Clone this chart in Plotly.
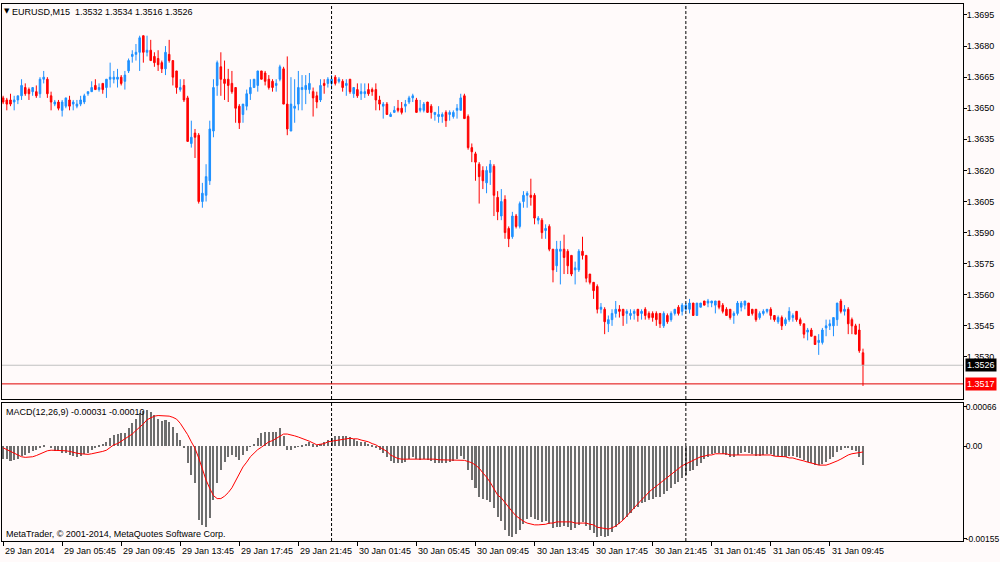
import plotly.graph_objects as go

# ---------------- DATA ----------------
open_ = [
    1.3655, 1.3654, 1.3654, 1.3653, 1.3654, 1.3656, 1.3660, 1.3659, 1.3658, 1.3658,
    1.3657, 1.3664, 1.3664, 1.3656, 1.3652, 1.3653, 1.3649, 1.3651, 1.3654, 1.3652,
    1.3651, 1.3652, 1.3653, 1.3657, 1.3658, 1.3661, 1.3659, 1.3662, 1.3660, 1.3664,
    1.3664, 1.3664, 1.3665, 1.3663, 1.3668, 1.3675, 1.3676, 1.3677, 1.3685, 1.3677,
    1.3678, 1.3675, 1.3674, 1.3672, 1.3669, 1.3676, 1.3673, 1.3668, 1.3659, 1.3661,
    1.3655, 1.3633, 1.3638, 1.3637, 1.3605, 1.3608, 1.3615, 1.3639, 1.3661, 1.3670,
    1.3664, 1.3664, 1.3662, 1.3660, 1.3651, 1.3647, 1.3651, 1.3657, 1.3660, 1.3661,
    1.3668, 1.3667, 1.3664, 1.3663, 1.3661, 1.3664, 1.3669, 1.3652, 1.3639, 1.3650,
    1.3652, 1.3659, 1.3659, 1.3659, 1.3658, 1.3656, 1.3654, 1.3662, 1.3662, 1.3662,
    1.3665, 1.3663, 1.3663, 1.3661, 1.3664, 1.3657, 1.3659, 1.3657, 1.3657, 1.3659,
    1.3659, 1.3659, 1.3654, 1.3651, 1.3652, 1.3646, 1.3648, 1.3650, 1.3650, 1.3651,
    1.3653, 1.3655, 1.3654, 1.3649, 1.3649, 1.3653, 1.3651, 1.3647, 1.3646, 1.3646,
    1.3648, 1.3647, 1.3646, 1.3649, 1.3649, 1.3656, 1.3646, 1.3631, 1.3628, 1.3623,
    1.3620, 1.3614, 1.3619, 1.3622, 1.3607, 1.3598, 1.3606, 1.3592, 1.3588, 1.3598,
    1.3593, 1.3605, 1.3608, 1.3608, 1.3608, 1.3596, 1.3596, 1.3591, 1.3593, 1.3582,
    1.3574, 1.3581, 1.3582, 1.3581, 1.3579, 1.3572, 1.3572, 1.3581, 1.3579, 1.3570,
    1.3566, 1.3564, 1.3553, 1.3553, 1.3546, 1.3548, 1.3551, 1.3553, 1.3553, 1.3551,
    1.3550, 1.3551, 1.3553, 1.3551, 1.3553, 1.3551, 1.3551, 1.3551, 1.3551, 1.3545,
    1.3550, 1.3548, 1.3551, 1.3554, 1.3552, 1.3553, 1.3553, 1.3556, 1.3550, 1.3554,
    1.3557, 1.3556, 1.3556, 1.3555, 1.3557, 1.3555, 1.3553, 1.3553, 1.3550, 1.3551,
    1.3554, 1.3555, 1.3556, 1.3553, 1.3553, 1.3549, 1.3551, 1.3552, 1.3553, 1.3550,
    1.3547, 1.3549, 1.3546, 1.3548, 1.3549, 1.3552, 1.3548, 1.3546, 1.3542, 1.3543,
    1.3540, 1.3537, 1.3537, 1.3544, 1.3545, 1.3545, 1.3548, 1.3557, 1.3552, 1.3553,
    1.3548, 1.3545, 1.3543, 1.3532,
]
high = [
    1.3656, 1.3655, 1.3657, 1.3656, 1.3656, 1.3664, 1.3662, 1.3660, 1.3660, 1.3661,
    1.3665, 1.3668, 1.3665, 1.3658, 1.3654, 1.3654, 1.3654, 1.3655, 1.3656, 1.3654,
    1.3654, 1.3656, 1.3657, 1.3658, 1.3663, 1.3664, 1.3662, 1.3662, 1.3664, 1.3672,
    1.3668, 1.3669, 1.3666, 1.3668, 1.3674, 1.3678, 1.3681, 1.3685, 1.3685, 1.3685,
    1.3683, 1.3677, 1.3678, 1.3673, 1.3680, 1.3683, 1.3673, 1.3668, 1.3664, 1.3664,
    1.3656, 1.3644, 1.3640, 1.3638, 1.3614, 1.3623, 1.3644, 1.3664, 1.3673, 1.3677,
    1.3673, 1.3669, 1.3668, 1.3660, 1.3652, 1.3652, 1.3659, 1.3664, 1.3664, 1.3668,
    1.3668, 1.3668, 1.3666, 1.3664, 1.3664, 1.3671, 1.3670, 1.3675, 1.3665, 1.3664,
    1.3668, 1.3666, 1.3666, 1.3667, 1.3660, 1.3658, 1.3664, 1.3664, 1.3665, 1.3666,
    1.3666, 1.3665, 1.3664, 1.3664, 1.3664, 1.3660, 1.3662, 1.3662, 1.3662, 1.3662,
    1.3660, 1.3662, 1.3656, 1.3653, 1.3653, 1.3648, 1.3651, 1.3654, 1.3653, 1.3654,
    1.3656, 1.3657, 1.3655, 1.3654, 1.3653, 1.3653, 1.3652, 1.3648, 1.3651, 1.3648,
    1.3649, 1.3649, 1.3649, 1.3652, 1.3657, 1.3657, 1.3647, 1.3633, 1.3629, 1.3624,
    1.3622, 1.3622, 1.3625, 1.3623, 1.3610, 1.3611, 1.3608, 1.3593, 1.3600, 1.3599,
    1.3605, 1.3610, 1.3610, 1.3616, 1.3609, 1.3598, 1.3597, 1.3594, 1.3594, 1.3582,
    1.3586, 1.3586, 1.3589, 1.3582, 1.3579, 1.3576, 1.3582, 1.3588, 1.3579, 1.3570,
    1.3566, 1.3565, 1.3556, 1.3554, 1.3550, 1.3553, 1.3557, 1.3555, 1.3553, 1.3553,
    1.3553, 1.3553, 1.3553, 1.3553, 1.3554, 1.3552, 1.3552, 1.3552, 1.3551, 1.3552,
    1.3551, 1.3552, 1.3553, 1.3555, 1.3556, 1.3556, 1.3558, 1.3556, 1.3556, 1.3556,
    1.3557, 1.3558, 1.3557, 1.3557, 1.3557, 1.3556, 1.3554, 1.3553, 1.3552, 1.3557,
    1.3557, 1.3557, 1.3556, 1.3553, 1.3553, 1.3552, 1.3553, 1.3553, 1.3554, 1.3550,
    1.3550, 1.3550, 1.3549, 1.3554, 1.3551, 1.3552, 1.3549, 1.3546, 1.3544, 1.3544,
    1.3540, 1.3541, 1.3544, 1.3548, 1.3548, 1.3549, 1.3556, 1.3558, 1.3555, 1.3554,
    1.3549, 1.3546, 1.3546, 1.3534,
]
low = [
    1.3652, 1.3649, 1.3651, 1.3649, 1.3652, 1.3654, 1.3656, 1.3654, 1.3656, 1.3655,
    1.3655, 1.3662, 1.3655, 1.3649, 1.3651, 1.3649, 1.3646, 1.3650, 1.3649, 1.3649,
    1.3650, 1.3651, 1.3652, 1.3656, 1.3658, 1.3659, 1.3658, 1.3657, 1.3655, 1.3660,
    1.3662, 1.3660, 1.3661, 1.3659, 1.3667, 1.3672, 1.3673, 1.3668, 1.3672, 1.3675,
    1.3673, 1.3670, 1.3668, 1.3667, 1.3666, 1.3672, 1.3661, 1.3657, 1.3658, 1.3653,
    1.3634, 1.3631, 1.3626, 1.3604, 1.3602, 1.3605, 1.3613, 1.3636, 1.3656, 1.3656,
    1.3654, 1.3653, 1.3657, 1.3643, 1.3640, 1.3643, 1.3649, 1.3654, 1.3660, 1.3658,
    1.3664, 1.3661, 1.3659, 1.3658, 1.3658, 1.3663, 1.3652, 1.3637, 1.3639, 1.3643,
    1.3649, 1.3649, 1.3652, 1.3657, 1.3646, 1.3650, 1.3653, 1.3657, 1.3660, 1.3659,
    1.3661, 1.3662, 1.3658, 1.3656, 1.3657, 1.3655, 1.3655, 1.3654, 1.3655, 1.3656,
    1.3656, 1.3649, 1.3649, 1.3645, 1.3647, 1.3646, 1.3648, 1.3648, 1.3647, 1.3648,
    1.3652, 1.3653, 1.3648, 1.3648, 1.3648, 1.3648, 1.3645, 1.3644, 1.3643, 1.3643,
    1.3641, 1.3644, 1.3645, 1.3645, 1.3649, 1.3645, 1.3630, 1.3624, 1.3615, 1.3604,
    1.3611, 1.3609, 1.3613, 1.3598, 1.3596, 1.3596, 1.3587, 1.3583, 1.3587, 1.3592,
    1.3592, 1.3602, 1.3602, 1.3603, 1.3594, 1.3594, 1.3587, 1.3587, 1.3581, 1.3566,
    1.3571, 1.3565, 1.3570, 1.3570, 1.3569, 1.3565, 1.3571, 1.3577, 1.3566, 1.3565,
    1.3558, 1.3551, 1.3551, 1.3541, 1.3542, 1.3545, 1.3549, 1.3549, 1.3545, 1.3546,
    1.3548, 1.3548, 1.3547, 1.3548, 1.3548, 1.3548, 1.3547, 1.3545, 1.3544, 1.3544,
    1.3546, 1.3547, 1.3550, 1.3550, 1.3550, 1.3552, 1.3551, 1.3550, 1.3550, 1.3554,
    1.3555, 1.3554, 1.3554, 1.3551, 1.3553, 1.3551, 1.3550, 1.3548, 1.3546, 1.3550,
    1.3552, 1.3553, 1.3550, 1.3550, 1.3547, 1.3548, 1.3550, 1.3551, 1.3548, 1.3547,
    1.3546, 1.3543, 1.3545, 1.3547, 1.3547, 1.3547, 1.3545, 1.3539, 1.3538, 1.3540,
    1.3536, 1.3531, 1.3536, 1.3540, 1.3543, 1.3540, 1.3545, 1.3551, 1.3550, 1.3541,
    1.3541, 1.3541, 1.3532, 1.3516,
]
close = [
    1.3653, 1.3652, 1.3652, 1.3654, 1.3656, 1.3661, 1.3657, 1.3657, 1.3660, 1.3656,
    1.3664, 1.3665, 1.3657, 1.3653, 1.3653, 1.3650, 1.3653, 1.3655, 1.3651, 1.3653,
    1.3652, 1.3654, 1.3656, 1.3658, 1.3660, 1.3659, 1.3660, 1.3659, 1.3664, 1.3665,
    1.3665, 1.3665, 1.3662, 1.3666, 1.3673, 1.3676, 1.3677, 1.3684, 1.3677, 1.3678,
    1.3673, 1.3672, 1.3671, 1.3669, 1.3677, 1.3673, 1.3665, 1.3660, 1.3660, 1.3654,
    1.3634, 1.3636, 1.3636, 1.3605, 1.3609, 1.3617, 1.3640, 1.3660, 1.3672, 1.3664,
    1.3662, 1.3661, 1.3658, 1.3650, 1.3643, 1.3652, 1.3657, 1.3660, 1.3664, 1.3668,
    1.3664, 1.3663, 1.3660, 1.3660, 1.3662, 1.3670, 1.3652, 1.3640, 1.3652, 1.3651,
    1.3660, 1.3660, 1.3661, 1.3662, 1.3655, 1.3653, 1.3661, 1.3661, 1.3664, 1.3664,
    1.3662, 1.3664, 1.3660, 1.3662, 1.3658, 1.3660, 1.3656, 1.3658, 1.3658, 1.3657,
    1.3658, 1.3654, 1.3652, 1.3652, 1.3647, 1.3647, 1.3649, 1.3649, 1.3648, 1.3652,
    1.3655, 1.3656, 1.3648, 1.3650, 1.3652, 1.3648, 1.3648, 1.3648, 1.3647, 1.3647,
    1.3644, 1.3648, 1.3648, 1.3650, 1.3655, 1.3645, 1.3631, 1.3629, 1.3624, 1.3617,
    1.3615, 1.3620, 1.3623, 1.3608, 1.3600, 1.3605, 1.3590, 1.3587, 1.3598, 1.3593,
    1.3604, 1.3608, 1.3609, 1.3607, 1.3597, 1.3597, 1.3590, 1.3592, 1.3582, 1.3572,
    1.3582, 1.3582, 1.3578, 1.3574, 1.3570, 1.3573, 1.3581, 1.3579, 1.3568, 1.3566,
    1.3562, 1.3553, 1.3554, 1.3547, 1.3548, 1.3551, 1.3553, 1.3552, 1.3550, 1.3552,
    1.3551, 1.3552, 1.3550, 1.3552, 1.3550, 1.3549, 1.3549, 1.3548, 1.3546, 1.3551,
    1.3547, 1.3551, 1.3553, 1.3551, 1.3555, 1.3555, 1.3556, 1.3550, 1.3556, 1.3556,
    1.3555, 1.3557, 1.3557, 1.3557, 1.3554, 1.3552, 1.3550, 1.3549, 1.3551, 1.3556,
    1.3556, 1.3557, 1.3550, 1.3551, 1.3548, 1.3551, 1.3552, 1.3553, 1.3550, 1.3548,
    1.3549, 1.3545, 1.3548, 1.3552, 1.3550, 1.3548, 1.3546, 1.3541, 1.3543, 1.3540,
    1.3536, 1.3538, 1.3543, 1.3545, 1.3546, 1.3549, 1.3556, 1.3552, 1.3553, 1.3546,
    1.3545, 1.3541, 1.3533, 1.3526,
]
macd_hist = [
    -0.00021, -0.00022, -0.00025, -0.00023, -0.00021, -0.00017, -0.00015, -0.00012, -0.00009, -0.00007,
    -0.00003, 0.00002, 0.00000, -0.00004, -0.00008, -0.00009, -0.00011, -0.00012, -0.00015, -0.00017,
    -0.00019, -0.00017, -0.00013, -0.00011, -0.00006, -0.00002, 0.00002, 0.00004, 0.00007, 0.00013,
    0.00018, 0.00020, 0.00021, 0.00022, 0.00030, 0.00039, 0.00046, 0.00056, 0.00059, 0.00061,
    0.00057, 0.00052, 0.00046, 0.00042, 0.00044, 0.00041, 0.00032, 0.00021, 0.00010, -0.00004,
    -0.00029, -0.00049, -0.00062, -0.00124, -0.00132, -0.00135, -0.00121, -0.00090, -0.00062, -0.00040,
    -0.00026, -0.00018, -0.00015, -0.00018, -0.00023, -0.00015, -0.00008, -0.00001, 0.00004, 0.00013,
    0.00021, 0.00023, 0.00024, 0.00024, 0.00024, 0.00031, 0.00017, -0.00006, -0.00007, -0.00004,
    -0.00001, 0.00002, 0.00004, 0.00006, 0.00003, 0.00001, 0.00004, 0.00007, 0.00010, 0.00014,
    0.00016, 0.00017, 0.00017, 0.00017, 0.00015, 0.00011, 0.00009, 0.00007, 0.00006, 0.00004,
    0.00002, -0.00002, -0.00007, -0.00012, -0.00019, -0.00025, -0.00028, -0.00028, -0.00028, -0.00026,
    -0.00022, -0.00019, -0.00022, -0.00023, -0.00022, -0.00023, -0.00025, -0.00028, -0.00028, -0.00029,
    -0.00028, -0.00026, -0.00025, -0.00022, -0.00017, -0.00021, -0.00040, -0.00057, -0.00071, -0.00085,
    -0.00089, -0.00090, -0.00093, -0.00104, -0.00118, -0.00125, -0.00140, -0.00150, -0.00152, -0.00148,
    -0.00140, -0.00130, -0.00122, -0.00118, -0.00122, -0.00124, -0.00128, -0.00126, -0.00130, -0.00138,
    -0.00136, -0.00135, -0.00134, -0.00136, -0.00140, -0.00138, -0.00132, -0.00128, -0.00134, -0.00140,
    -0.00145, -0.00152, -0.00150, -0.00152, -0.00150, -0.00144, -0.00136, -0.00130, -0.00124, -0.00118,
    -0.00112, -0.00106, -0.00102, -0.00096, -0.00094, -0.00090, -0.00088, -0.00086, -0.00086, -0.00080,
    -0.00076, -0.00070, -0.00064, -0.00060, -0.00054, -0.00048, -0.00042, -0.00040, -0.00034, -0.00028,
    -0.00022, -0.00018, -0.00014, -0.00012, -0.00012, -0.00013, -0.00015, -0.00018, -0.00018, -0.00015,
    -0.00012, -0.00010, -0.00012, -0.00013, -0.00016, -0.00016, -0.00015, -0.00013, -0.00014, -0.00016,
    -0.00017, -0.00019, -0.00019, -0.00017, -0.00017, -0.00018, -0.00020, -0.00024, -0.00026, -0.00028,
    -0.00031, -0.00032, -0.00030, -0.00026, -0.00022, -0.00018, -0.00010, -0.00006, -0.00003, -0.00004,
    -0.00006, -0.00009, -0.00018, -0.00031,
]
macd_signal = [
    -0.00003, -0.00006, -0.00009, -0.00013, -0.00016, -0.00018, -0.00019, -0.00019, -0.00018, -0.00016,
    -0.00013, -0.00010, -0.00008, -0.00007, -0.00007, -0.00007, -0.00007, -0.00008, -0.00009, -0.00011,
    -0.00012, -0.00013, -0.00014, -0.00014, -0.00013, -0.00012, -0.00011, -0.00009, -0.00007, -0.00003,
    0.00002, 0.00004, 0.00008, 0.00011, 0.00015, 0.00020, 0.00026, 0.00031, 0.00037, 0.00044,
    0.00047, 0.00050, 0.00051, 0.00051, 0.00051, 0.00050, 0.00048, 0.00045, 0.00038, 0.00029,
    0.00019, 0.00007, -0.00004, -0.00020, -0.00039, -0.00057, -0.00071, -0.00083, -0.00088, -0.00088,
    -0.00084, -0.00078, -0.00070, -0.00059, -0.00048, -0.00035, -0.00027, -0.00018, -0.00012, -0.00006,
    -0.00002, 0.00003, 0.00007, 0.00009, 0.00013, 0.00017, 0.00020, 0.00020, 0.00019, 0.00017,
    0.00015, 0.00013, 0.00011, 0.00008, 0.00005, 0.00002, 0.00003, 0.00004, 0.00007, 0.00008,
    0.00009, 0.00011, 0.00011, 0.00012, 0.00013, 0.00012, 0.00012, 0.00010, 0.00009, 0.00007,
    0.00004, 0.00002, -0.00002, -0.00006, -0.00009, -0.00015, -0.00018, -0.00021, -0.00022, -0.00022,
    -0.00022, -0.00022, -0.00021, -0.00021, -0.00021, -0.00022, -0.00022, -0.00022, -0.00023, -0.00023,
    -0.00023, -0.00023, -0.00023, -0.00023, -0.00023, -0.00024, -0.00026, -0.00028, -0.00032, -0.00037,
    -0.00045, -0.00052, -0.00061, -0.00071, -0.00082, -0.00087, -0.00095, -0.00104, -0.00110, -0.00117,
    -0.00122, -0.00126, -0.00129, -0.00131, -0.00132, -0.00132, -0.00132, -0.00131, -0.00129, -0.00129,
    -0.00127, -0.00127, -0.00127, -0.00127, -0.00127, -0.00129, -0.00129, -0.00129, -0.00129, -0.00131,
    -0.00132, -0.00136, -0.00137, -0.00139, -0.00139, -0.00137, -0.00134, -0.00129, -0.00124, -0.00117,
    -0.00110, -0.00104, -0.00097, -0.00090, -0.00084, -0.00077, -0.00072, -0.00067, -0.00062, -0.00057,
    -0.00052, -0.00047, -0.00042, -0.00037, -0.00033, -0.00030, -0.00027, -0.00023, -0.00020, -0.00018,
    -0.00017, -0.00015, -0.00015, -0.00013, -0.00013, -0.00013, -0.00013, -0.00015, -0.00015, -0.00015,
    -0.00015, -0.00015, -0.00015, -0.00015, -0.00015, -0.00015, -0.00015, -0.00015, -0.00015, -0.00017,
    -0.00017, -0.00018, -0.00018, -0.00020, -0.00020, -0.00022, -0.00023, -0.00025, -0.00027, -0.00028,
    -0.00030, -0.00032, -0.00032, -0.00032, -0.00030, -0.00028, -0.00025, -0.00022, -0.00018, -0.00015,
    -0.00013, -0.00012, -0.00010, -0.00010,
]

time_tick_bars = [0, 16, 32, 48, 64, 80, 96, 112, 128, 144, 160, 176, 192, 208, 224]
time_tick_labels = [
    "29 Jan 2014", "29 Jan 05:45", "29 Jan 09:45", "29 Jan 13:45", "29 Jan 17:45",
    "29 Jan 21:45", "30 Jan 01:45", "30 Jan 05:45", "30 Jan 09:45", "30 Jan 13:45",
    "30 Jan 17:45", "30 Jan 21:45", "31 Jan 01:45", "31 Jan 05:45", "31 Jan 09:45",
]
price_ticks = [1.3530, 1.3545, 1.3560, 1.3575, 1.3590, 1.3605, 1.3620,
               1.3635, 1.3650, 1.3665, 1.3680, 1.3695]
macd_ticks = [0.00066, 0.0, -0.00155]
macd_tick_labels = ["0.00066", "0.00", "-0.00155"]
day_separator_bars = [89, 185]
bid_price = 1.3526
level_price = 1.3517
header_text = "EURUSD,M15  1.3532 1.3534 1.3516 1.3526"
macd_text = "MACD(12,26,9) -0.00031 -0.00010"
copyright_text = "MetaTrader, © 2001-2014, MetaQuotes Software Corp."

# ---------------- FIGURE ----------------
BG = "#FFFAFA"
FONT = "Liberation Sans, Arial, sans-serif"
bars = list(range(len(open_)))
x_range = [-0.3, 260.1]

fig = go.Figure()
fig.add_trace(go.Candlestick(
    x=bars, open=open_, high=high, low=low, close=close,
    increasing=dict(line=dict(color="#1E90FF", width=1), fillcolor="#1E90FF"),
    decreasing=dict(line=dict(color="#FF0000", width=1), fillcolor="#FF0000"),
    whiskerwidth=0, xaxis="x", yaxis="y", hoverinfo="skip", showlegend=False,
))
fig.add_trace(go.Bar(
    x=bars, y=macd_hist, width=0.55,
    marker=dict(color="#6E6E6E", line=dict(width=0)),
    xaxis="x2", yaxis="y2", hoverinfo="skip", showlegend=False,
))
fig.add_trace(go.Scatter(
    x=bars, y=macd_signal, mode="lines",
    line=dict(color="#FF0000", width=1),
    xaxis="x2", yaxis="y2", hoverinfo="skip", showlegend=False,
))

axis_common = dict(showgrid=False, zeroline=False, showline=True,
                   linecolor="black", linewidth=1, mirror=True, automargin=False)

fig.update_layout(
    width=1000, height=562,
    margin=dict(l=2, r=37, t=4, b=21, autoexpand=False),
    paper_bgcolor=BG, plot_bgcolor=BG,
    font=dict(family=FONT, size=9, color="black"),
    showlegend=False, boxgap=0.4, bargap=0,
    xaxis=dict(domain=[0, 1], anchor="y", range=x_range, showticklabels=False,
               ticks="", rangeslider=dict(visible=False), **axis_common),
    yaxis=dict(domain=[0.2644, 1], anchor="x", side="right",
               range=[1.35097, 1.37003], tickmode="array", tickvals=price_ticks,
               ticktext=[f"{v:.4f}" for v in price_ticks], ticks="outside",
               ticklen=3, tickcolor="black", tickfont=dict(size=9),
               ticklabelstandoff=-2, **axis_common),
    xaxis2=dict(domain=[0, 1], anchor="y2", range=x_range, tickmode="array",
                tickvals=time_tick_bars, showticklabels=False, ticks="outside",
                ticklen=4, tickcolor="black", **axis_common),
    yaxis2=dict(domain=[0, 0.257], anchor="x2", side="right",
                range=[-0.00159, 0.00072], tickmode="array", tickvals=macd_ticks,
                ticktext=macd_tick_labels, ticks="outside", ticklen=3,
                tickcolor="black", tickfont=dict(size=8.5),
                ticklabelstandoff=-3, **axis_common),
)

shapes = []
for b in day_separator_bars:
    for yr in ("y domain", "y2 domain"):
        shapes.append(dict(type="line", xref="x", yref=yr, x0=b, x1=b, y0=0, y1=1,
                           line=dict(color="black", width=1, dash="3px,2px")))
shapes.append(dict(type="line", xref="x domain", yref="y", x0=0, x1=1,
                   y0=bid_price, y1=bid_price, line=dict(color="#C0C0C0", width=1)))
shapes.append(dict(type="line", xref="x domain", yref="y", x0=0, x1=1,
                   y0=level_price, y1=level_price, line=dict(color="#E00000", width=1)))
fig.update_layout(shapes=shapes)

ann = []
ann.append(dict(xref="paper", yref="paper", x=0, y=1, xanchor="left", yanchor="top",
                xshift=0, yshift=-1, showarrow=False, text="▼",
                font=dict(size=7, color="black", family="DejaVu Sans")))
ann.append(dict(xref="paper", yref="paper", x=0, y=1, xanchor="left", yanchor="top",
                xshift=8, yshift=-1, showarrow=False, text=header_text,
                font=dict(size=9, color="black", family=FONT)))
ann.append(dict(xref="paper", yref="paper", x=0, y=0.257, xanchor="left", yanchor="top",
                xshift=2, yshift=-2, showarrow=False, text=macd_text,
                font=dict(size=9, color="black", family=FONT)))
ann.append(dict(xref="paper", yref="paper", x=0, y=0, xanchor="left", yanchor="bottom",
                xshift=2, yshift=0, showarrow=False, text=copyright_text,
                font=dict(size=9, color="black", family=FONT)))
for b, t in zip(time_tick_bars, time_tick_labels):
    ann.append(dict(xref="x2", yref="paper", x=b, y=0, xanchor="left", yanchor="top",
                    xshift=0, yshift=-3, showarrow=False, text=t,
                    font=dict(size=9, color="black", family=FONT)))
ann.append(dict(xref="paper", yref="y", x=1, y=bid_price, xanchor="left", yanchor="middle",
                xshift=2, showarrow=False, text=f"{bid_price:.4f}", bgcolor="black",
                borderpad=1, font=dict(size=9, color="white", family=FONT)))
ann.append(dict(xref="paper", yref="y", x=1, y=level_price, xanchor="left", yanchor="middle",
                xshift=2, showarrow=False, text=f"{level_price:.4f}", bgcolor="#FF0000",
                borderpad=1, font=dict(size=9, color="white", family=FONT)))
fig.update_layout(annotations=ann)

fig.write_html("out.html", config={"displayModeBar": False},
               post_script="document.body.style.margin='0';")
